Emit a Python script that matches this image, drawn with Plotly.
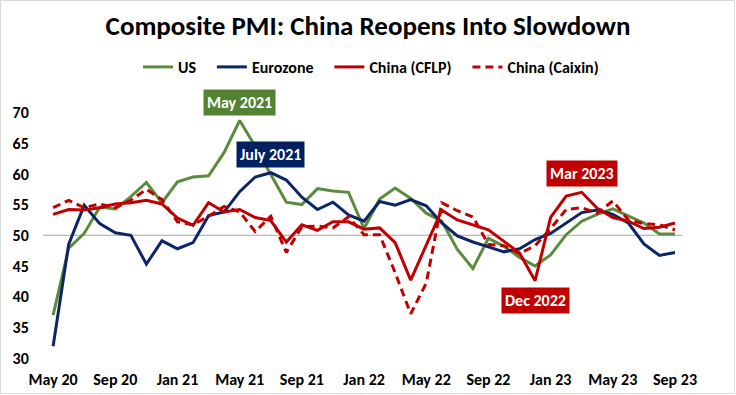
import plotly.graph_objects as go

months = ["May 20", "Jun 20", "Jul 20", "Aug 20", "Sep 20", "Oct 20", "Nov 20", "Dec 20",
          "Jan 21", "Feb 21", "Mar 21", "Apr 21", "May 21", "Jun 21", "Jul 21", "Aug 21",
          "Sep 21", "Oct 21", "Nov 21", "Dec 21", "Jan 22", "Feb 22", "Mar 22", "Apr 22",
          "May 22", "Jun 22", "Jul 22", "Aug 22", "Sep 22", "Oct 22", "Nov 22", "Dec 22",
          "Jan 23", "Feb 23", "Mar 23", "Apr 23", "May 23", "Jun 23", "Jul 23", "Aug 23",
          "Sep 23"]

us = [37.0, 47.9, 50.3, 54.6, 54.3, 56.3, 58.6, 55.3, 58.7, 59.5, 59.7, 63.5, 68.7,
      64.5, 59.9, 55.4, 55.0, 57.6, 57.2, 57.0, 51.1, 55.9, 57.7, 56.0, 53.6, 52.3,
      47.7, 44.6, 49.5, 48.2, 46.4, 45.0, 46.8, 50.1, 52.3, 53.4, 54.3, 53.2, 52.0,
      50.2, 50.2]

eurozone = [31.9, 48.5, 54.9, 51.9, 50.4, 50.0, 45.3, 49.1, 47.8, 48.8, 53.2, 53.8, 57.1,
            59.5, 60.2, 59.0, 56.2, 54.2, 55.4, 53.3, 52.3, 55.5, 54.9, 55.8, 54.8, 52.0,
            49.9, 48.9, 48.1, 47.3, 47.8, 49.3, 50.3, 52.0, 53.7, 54.1, 53.4, 52.0, 48.6,
            46.7, 47.2]

china_cflp = [53.4, 54.2, 54.1, 54.5, 55.1, 55.3, 55.7, 55.1, 52.8, 51.6, 55.3, 53.8, 54.2,
              52.9, 52.4, 48.9, 51.7, 50.8, 52.2, 52.2, 51.0, 51.2, 48.8, 42.7, 48.4, 54.1,
              52.5, 51.7, 50.9, 49.0, 47.1, 42.6, 52.9, 56.4, 57.0, 54.4, 52.9, 52.3, 51.1,
              51.3, 52.0]

china_caixin = [54.5, 55.7, 54.5, 55.1, 54.5, 55.7, 57.5, 55.8, 52.2, 51.7, 53.1, 54.7, 53.8,
                50.6, 53.1, 47.2, 51.4, 51.5, 51.2, 53.0, 50.1, 50.1, 43.9, 37.2, 42.2, 55.3,
                54.0, 53.0, 48.5, 48.3, 47.0, 48.3, 51.1, 54.2, 54.5, 53.6, 55.6, 52.5, 51.9,
                51.7, 50.9]

series_names = ["US", "Eurozone", "China (CFLP)", "China (Caixin)"]
tick_labels = ["May 20", "Sep 20", "Jan 21", "May 21", "Sep 21", "Jan 22",
               "May 22", "Sep 22", "Jan 23", "May 23", "Sep 23"]
y_ticks = [30, 35, 40, 45, 50, 55, 60, 65, 70]

callouts = [("May 2021", "May 21", 71.7, "#548235"),
            ("July 2021", "Jul 21", 63.2, "#002060"),
            ("Mar 2023", "Mar 23", 60.1, "#C00000"),
            ("Dec 2022", "Dec 22", 39.35, "#C00000")]

FONT = "Carlito, Calibri, Lato, 'Open Sans', sans-serif"
GREEN = "#5B8C3C"
NAVY = "#0B2566"
RED = "#C00000"
PAD = "&nbsp;" * 3

fig = go.Figure()
styles = [dict(color=GREEN, width=3), dict(color=NAVY, width=3),
          dict(color=RED, width=3), dict(color=RED, width=3, dash="8px,5px")]
for i, (name, vals, st) in enumerate(zip(series_names,
                                         [us, eurozone, china_cflp, china_caixin], styles)):
    label = "<b>%s</b>" % name + (PAD if i < 3 else "")
    fig.add_trace(go.Scatter(x=months, y=vals, name=label, mode="lines", line=st,
                             hoverinfo="skip"))

for text, xm, yv, col in callouts:
    fig.add_annotation(x=xm, y=yv, xref="x", yref="y", text="<b>%s</b>" % text,
                       showarrow=False, bgcolor=col, borderpad=3,
                       font=dict(family=FONT, size=16, color="white"))

fig.add_shape(type="line", xref="paper", yref="y", x0=0, x1=1, y0=50, y1=50,
              line=dict(color="#A6A6A6", width=1), layer="below")

# outer chart border
W, H = 736, 395
L, R, T, B = 43, 54, 88, 37
pw, ph = W - L - R, H - T - B
fig.add_shape(type="rect", xref="paper", yref="paper",
              x0=(0.5 - L) / pw, x1=(W - 1.5 - L) / pw,
              y0=-(B - 1.5) / ph, y1=1 + (T - 0.5) / ph,
              line=dict(color="#D9D9D9", width=1))

fig.update_layout(
    width=W, height=H,
    margin=dict(l=L, r=R, t=T, b=B, autoexpand=False),
    paper_bgcolor="white", plot_bgcolor="white",
    font=dict(family=FONT, color="black"),
    title=dict(text="<b>Composite PMI: China Reopens Into Slowdown</b>",
               x=0.5, xref="container", xanchor="center",
               y=1 - 26 / H, yref="container", yanchor="middle",
               font=dict(family=FONT, size=27, color="black")),
    legend=dict(orientation="h", x=(371 - L) / pw, xanchor="center",
                y=(H - B - 67) / ph, yanchor="middle",
                font=dict(family=FONT, size=16, color="black"),
                bgcolor="rgba(0,0,0,0)"),
    showlegend=True,
)

fig.update_xaxes(type="category", range=[-0.65, 40.45], tickvals=tick_labels,
                 ticktext=["<b>%s</b>" % t for t in tick_labels],
                 showgrid=False, zeroline=False, showline=False,
                 ticks="outside", ticklen=7, tickcolor="rgba(0,0,0,0)",
                 tickfont=dict(family=FONT, size=16, color="black"))
fig.update_yaxes(range=[30, 74], tickvals=y_ticks,
                 ticktext=["<b>%d</b>" % v for v in y_ticks],
                 showgrid=False, zeroline=False, showline=False,
                 ticks="outside", ticklen=10, tickcolor="rgba(0,0,0,0)",
                 tickfont=dict(family=FONT, size=16, color="black"))

fig.write_html("out.html", config={"displayModeBar": False},
               post_script="document.body.style.margin='0';document.body.style.overflow='hidden';")
